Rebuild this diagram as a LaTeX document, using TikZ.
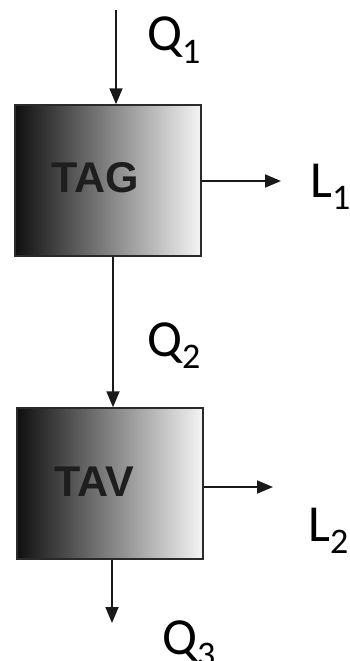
\documentclass[tikz,border=0pt]{standalone}
\usepackage{fontspec}
\setmainfont{Carlito}
\newfontfamily\boxfont{Liberation Sans}
\usetikzlibrary{arrows.meta}
\definecolor{edgegray}{HTML}{2A2A2A}
\definecolor{txtgray}{HTML}{1E1E1E}
\tikzset{
  unit/.style={draw=edgegray, line width=1.5pt, minimum width=186pt, minimum height=151pt,
    inner sep=0pt, left color=black!94, right color=black!4, shading=axis},
  unittext/.style={font=\boxfont\bfseries\fontsize{43}{43}\selectfont, text=txtgray, inner sep=0pt},
  flow/.style={draw=black!90, line width=1.8pt, -{Triangle[length=16pt,width=13pt]}},
  lab/.style={font=\fontsize{52}{52}\selectfont, inner sep=0pt, anchor=base west},
}
\newcommand{\sub}[1]{\raisebox{-0.24em}{\fontsize{36}{36}\selectfont #1}}
\begin{document}
\begin{tikzpicture}[x=1pt,y=-1pt]
\useasboundingbox (0,0) rectangle (350,661);
\node[unit] (box1) at (108,180.5) {};
\node[unittext] (tag) at (95,178) {TAG};
\node[unit] (box2) at (110,483.5) {};
\node[unittext] (tav) at (94,482) {TAV};
\coordinate (in1) at (116,10);
\coordinate (out1) at (281,181);
\coordinate (out2) at (273,487);
\coordinate (out3) at (112,623);
\draw[flow] (in1) -- (in1 |- box1.north);
\draw[flow] (113,0 |- box1.south) -- (113,0 |- box2.north);
\draw[flow] (box1.east |- out1) -- (out1);
\draw[flow] (box2.east |- out2) -- (out2);
\draw[flow] (out3 |- box2.south) -- (out3);
\node[lab] (q1) at (147,51) {Q\sub{1}};
\node[lab] (q2) at (147,356) {Q\sub{2}};
\node[lab] (q3) at (162,654) {Q\sub{3}};
\node[lab] (l1) at (310,197) {L\sub{1}};
\node[lab] (l2) at (308,541) {L\sub{2}};
\end{tikzpicture}
\end{document}
